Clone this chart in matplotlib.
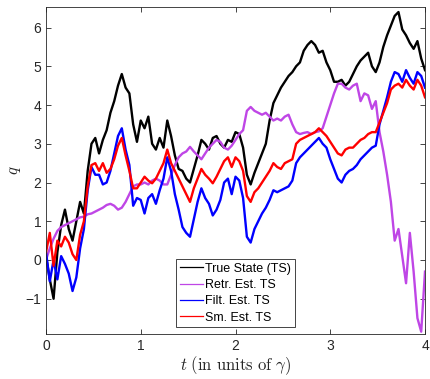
import numpy as np
import matplotlib
matplotlib.use("Agg")
import matplotlib.pyplot as plt

# time grid (units of gamma)
t = np.linspace(0, 4, 101)

true_state = [0.1, -0.5, -1.0, 0.2, 0.9, 1.3, 0.8, 0.5, 1.0, 1.5,
              1.2, 2.3, 3.0, 3.15, 2.75, 3.1, 3.35, 3.8, 4.1, 4.5,
              4.8, 4.45, 4.3, 3.5, 3.05, 3.6, 3.4, 3.7, 3.0, 2.85,
              3.15, 2.9, 3.6, 3.2, 2.7, 2.35, 2.3, 2.1, 2.0, 2.35,
              2.7, 3.1, 3.0, 2.85, 3.15, 3.2, 3.0, 2.9, 3.1, 3.05,
              3.3, 3.25, 2.9, 2.2, 1.95, 2.25, 2.5, 2.75, 3.0, 3.6,
              4.05, 4.25, 4.45, 4.6, 4.75, 4.85, 5.0, 5.1, 5.4, 5.55,
              5.65, 5.55, 5.35, 5.4, 5.1, 4.9, 4.6, 4.6, 4.65, 4.5,
              4.6, 4.8, 5.0, 5.15, 5.25, 5.35, 5.0, 4.85, 5.1, 5.5,
              5.8, 6.05, 6.3, 6.4, 5.95, 5.8, 5.6, 5.45, 5.65, 5.2,
              4.9]

retr_est = [0.0, 0.3, 0.55, 0.75, 0.85, 0.9, 0.95, 1.0, 1.05, 1.1,
            1.12, 1.18, 1.2, 1.25, 1.3, 1.35, 1.42, 1.45, 1.4, 1.3,
            1.35, 1.5, 1.7, 1.9, 1.95, 1.95, 2.0, 1.95, 2.05, 2.1,
            2.05, 1.95, 1.95, 2.2, 2.45, 2.65, 2.75, 2.8, 2.92, 2.8,
            2.7, 2.6, 2.75, 2.9, 3.0, 3.1, 3.05, 2.9, 2.85, 2.95,
            3.1, 3.25, 3.35, 3.85, 3.95, 3.85, 3.8, 3.75, 3.8, 3.7,
            3.6, 3.65, 3.6, 3.7, 3.75, 3.5, 3.3, 3.25, 3.28, 3.3,
            3.25, 3.3, 3.32, 3.4, 3.7, 4.0, 4.3, 4.55, 4.55, 4.45,
            4.4, 4.5, 4.55, 4.1, 4.3, 4.25, 3.9, 4.1, 3.3, 2.8,
            2.2, 1.5, 0.5, 0.8, 0.1, -0.6, 0.7, -0.3, -1.5, -1.85,
            -0.3]

filt_est = [0.2, -0.55, 0.0, -0.5, 0.1, -0.1, -0.35, -0.8, -0.45, 0.3,
            0.8, 1.8, 2.4, 2.2, 2.2, 1.95, 2.0, 2.3, 2.75, 3.2,
            3.4, 2.85, 2.45, 1.4, 1.6, 1.55, 1.2, 1.6, 1.7, 1.45,
            1.8, 2.1, 2.65, 2.3, 1.7, 1.3, 0.85, 0.7, 0.6, 1.05,
            1.5, 1.85, 1.6, 1.45, 1.15, 1.3, 1.55, 2.0, 2.1, 1.7,
            2.15, 2.05, 1.6, 0.6, 0.45, 0.8, 1.0, 1.2, 1.35, 1.55,
            1.8, 1.75, 1.8, 1.85, 1.9, 2.05, 2.5, 2.65, 2.75, 2.85,
            2.95, 3.05, 3.15, 3.0, 2.9, 2.6, 2.35, 2.1, 2.0, 2.2,
            2.3, 2.35, 2.45, 2.6, 2.7, 2.8, 2.9, 2.95, 3.5, 3.85,
            4.2, 4.6, 4.85, 4.8, 4.6, 4.9, 4.7, 4.55, 4.85, 4.75,
            4.45]

sm_est = [0.2, 0.7, -0.15, 0.5, 0.35, 0.6, 0.45, 0.15, 0.0, 0.65,
          1.0, 1.9, 2.45, 2.5, 2.3, 2.5, 2.25, 2.35, 2.6, 2.95,
          3.15, 2.7, 2.3, 1.85, 1.85, 2.0, 2.15, 2.05, 1.98, 2.1,
          2.3, 2.5, 2.85, 2.5, 2.3, 2.1, 1.9, 1.7, 1.5, 1.85,
          2.1, 2.35, 2.2, 2.1, 1.98, 2.15, 2.35, 2.55, 2.65, 2.4,
          2.65, 2.55, 2.3, 1.65, 1.5, 1.75, 1.85, 2.0, 2.15, 2.3,
          2.5, 2.4, 2.35, 2.5, 2.55, 2.6, 3.0, 3.1, 3.15, 3.2,
          3.25, 3.3, 3.4, 3.3, 3.2, 3.05, 2.9, 2.75, 2.7, 2.85,
          2.9, 2.9, 3.0, 3.1, 3.15, 3.25, 3.3, 3.3, 3.55, 3.8,
          4.05, 4.4, 4.5, 4.55, 4.45, 4.65, 4.5, 4.4, 4.65, 4.5,
          4.2]

labels = ["True State (TS)", "Retr. Est. TS", "Filt. Est. TS", "Sm. Est. TS"]
colors = ["#000000", "#BF46E6", "#0000FF", "#FF0000"]

plt.rcParams["font.family"] = ["Liberation Sans", "DejaVu Sans"]
plt.rcParams["mathtext.fontset"] = "cm"

fig = plt.figure(figsize=(4.30, 3.79), dpi=100)
ax = fig.add_axes([46/430, 1-334/379, 379/430, 327/379])

for y, c, lab in zip([true_state, retr_est, filt_est, sm_est], colors, labels):
    ax.plot(t, y, color=c, lw=1.7, label=lab)

ax.set_xlim(0, 4)
ax.set_ylim(-1.91, 6.53)
ax.set_xticks([0, 1, 2, 3, 4])
ax.set_yticks([-1, 0, 1, 2, 3, 4, 5, 6])
ax.tick_params(direction="in", top=True, right=True, labelsize=10,
               colors="#262626", length=3.5, width=0.6)
for s in ax.spines.values():
    s.set_color("#262626")
    s.set_linewidth(0.6)

ax.set_xlabel(r"$t\ \mathrm{(in\ units\ of\ }\gamma\mathrm{)}$", fontsize=12,
              color="#262626", labelpad=1)
ax.set_ylabel(r"$q$", fontsize=12, color="#262626", labelpad=2)

leg = ax.legend(loc="lower center", bbox_to_anchor=(0.5, 0.02), fontsize=9,
                frameon=True, fancybox=False, framealpha=1,
                edgecolor="#262626", handlelength=1.8, handletextpad=0.2,
                labelspacing=0.35, borderpad=0.3, borderaxespad=0)
leg.get_frame().set_linewidth(0.6)
for h in leg.get_lines():
    h.set_linewidth(0.9)

fig.savefig("out.png", dpi=100)
